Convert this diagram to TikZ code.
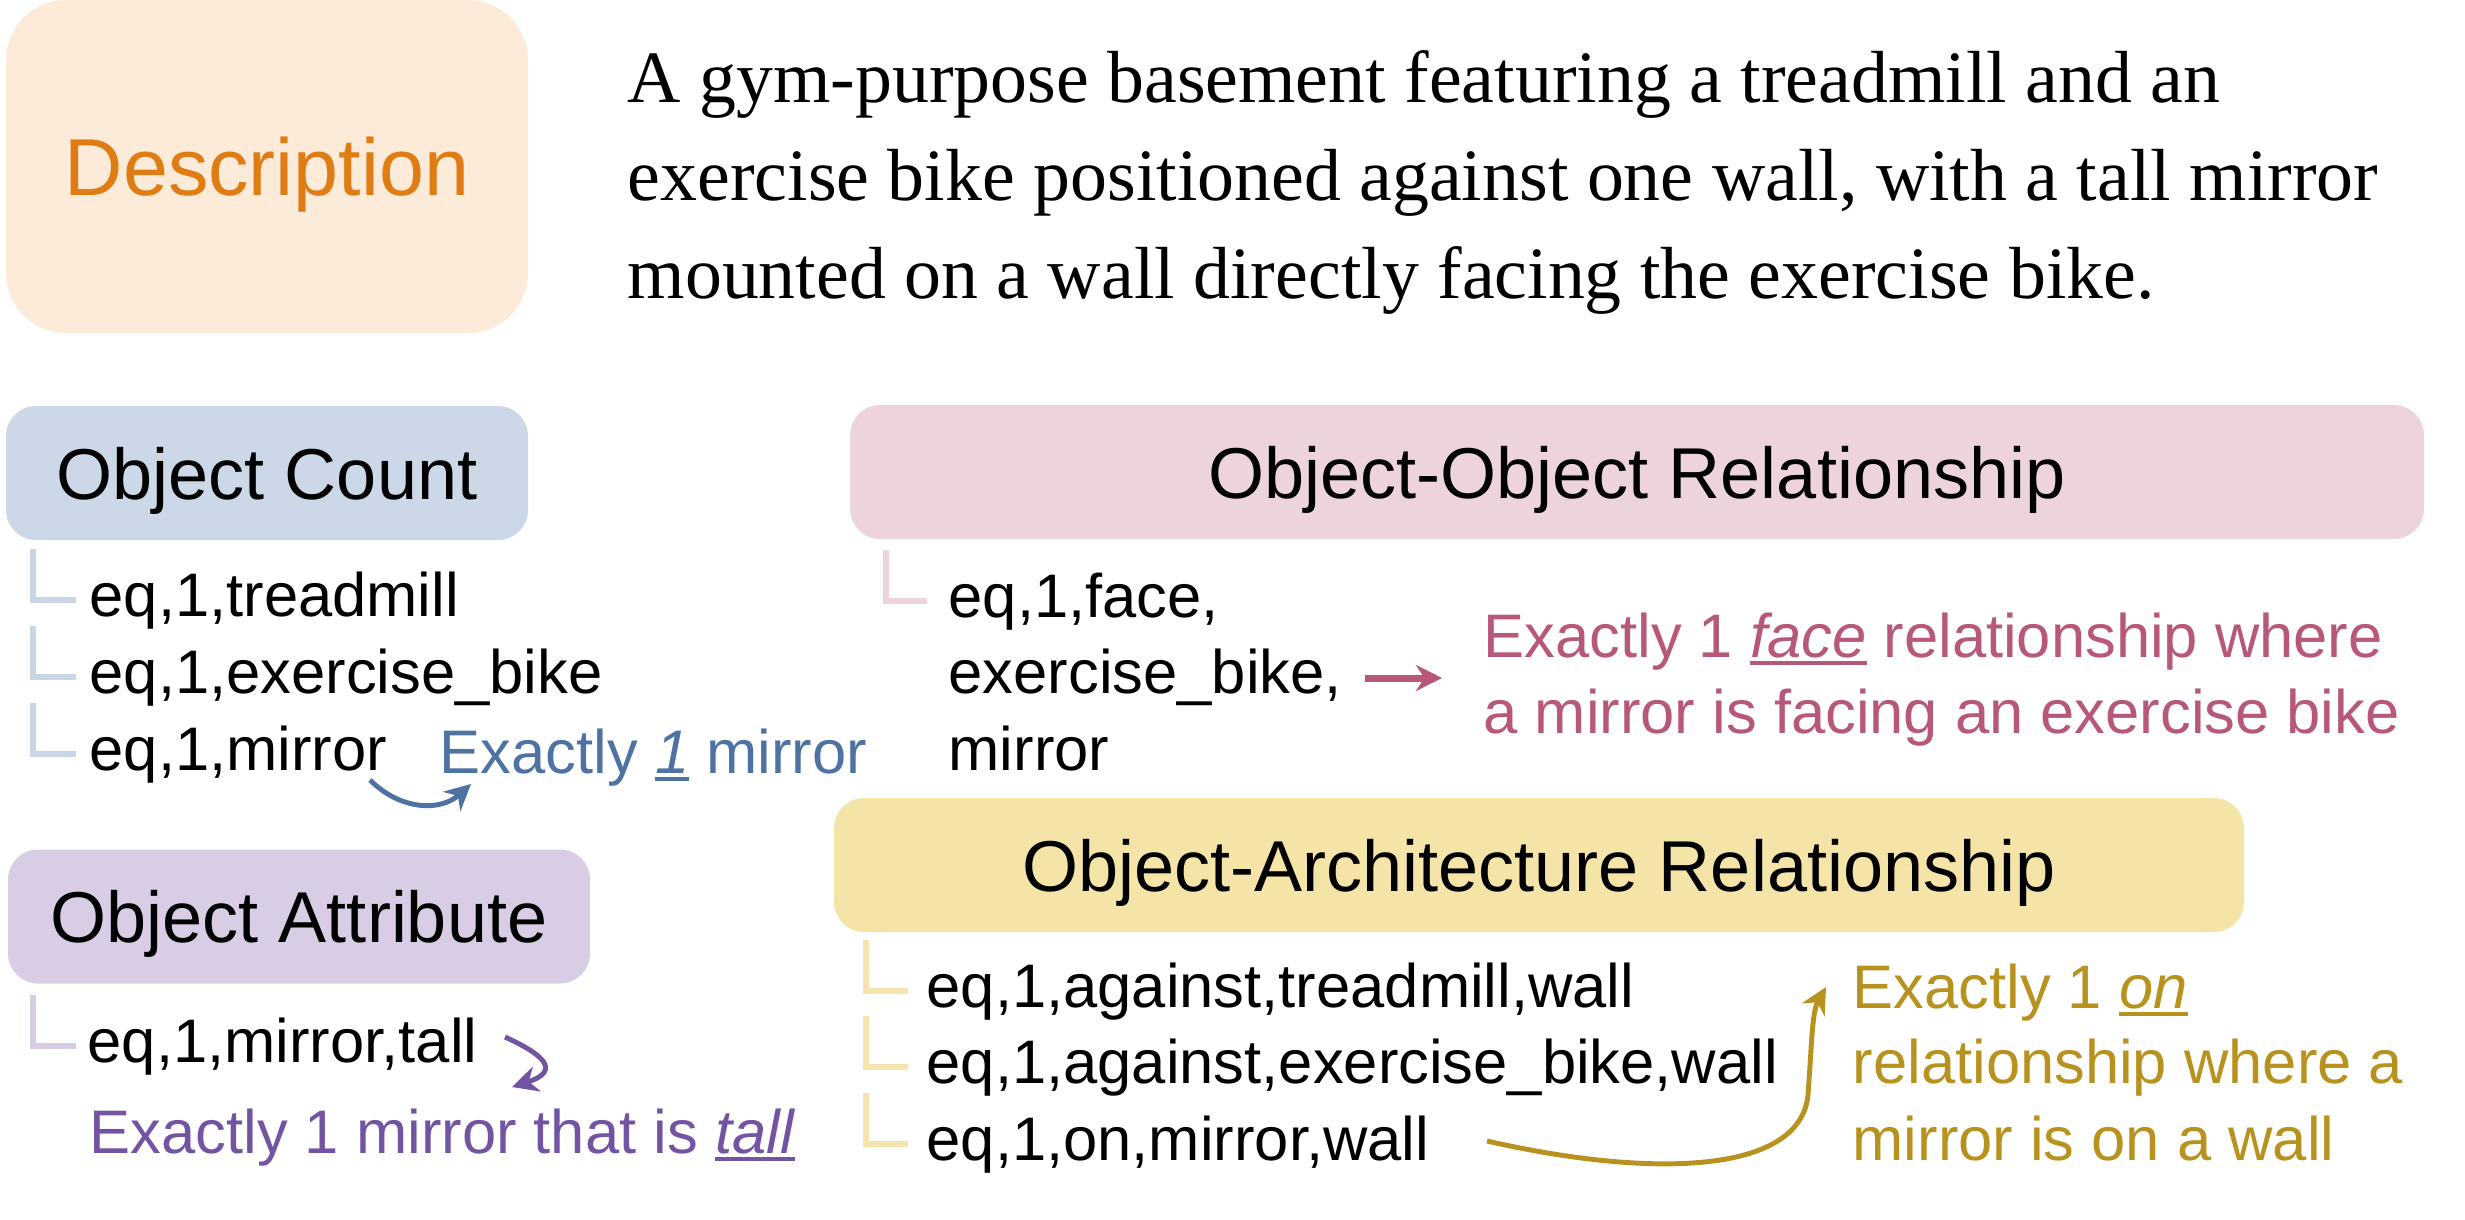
\documentclass[tikz,border=0pt]{standalone}
\usepackage{fontspec}
\setmainfont{Liberation Serif}
\newfontfamily\aptos{Liberation Sans}
\usetikzlibrary{arrows.meta}

\definecolor{descfill}{HTML}{FDEBDA}
\definecolor{desctext}{HTML}{E07C14}
\definecolor{cntfill}{HTML}{CCD8E7}
\definecolor{cntline}{HTML}{CAD5E5}
\definecolor{cntblue}{HTML}{4E72A2}
\definecolor{attfill}{HTML}{D8CDE5}
\definecolor{attpurple}{HTML}{7254A3}
\definecolor{oofill}{HTML}{EDD3DB}
\definecolor{oopink}{HTML}{B7587B}
\definecolor{oafill}{HTML}{F5E4A8}
\definecolor{oaline}{HTML}{F6E4AE}
\definecolor{oagold}{HTML}{B8921E}

% italic word with a rule under it
\newcommand\ulword[1]{\setbox0\hbox{\textit{#1}}\rlap{\rule[-0.75mm]{\wd0}{0.35mm}}\box0\relax}

\begin{document}
\begin{tikzpicture}[x=0.1mm,y=-0.1mm,
  box/.style={rounded corners=3mm, inner sep=0pt, text depth=0pt, minimum height=13.4mm,
    font=\aptos\fontsize{20.5pt}{24pt}\selectfont},
  item/.style={anchor=base west, inner sep=0pt, font=\aptos\fontsize{17.5pt}{21pt}\selectfont},
  note/.style={item, text=#1},
  descline/.style={anchor=base west, inner sep=0pt, font=\fontsize{21pt}{25pt}\selectfont},
  tree/.style={line width=1.6pt, draw=#1},
  tip/.style={line width=1.4pt, draw=#1, -{Stealth[length=2.6mm,width=2.6mm]}}]
\useasboundingbox (0,0) rectangle (2465,1219);

% description
\node[box, rounded corners=6mm, fill=descfill, text=desctext, minimum width=52.2mm, minimum height=33.3mm,
  font=\aptos\fontsize{23pt}{26pt}\selectfont] (desc) at (267,166.5) {Description};
\node[descline] (desc1) at (627,102) {A gym-purpose basement featuring a treadmill and an};
\node[descline] (desc2) at (627,200) {exercise bike positioned against one wall, with a tall mirror};
\node[descline] (desc3) at (627,298) {mounted on a wall directly facing the exercise bike.};

% object count
\node[box, fill=cntfill, minimum width=52.2mm] (count) at (267,473) {Object Count};
\node[item] (cnt1) at (89,616) {eq,1,treadmill};
\node[item] (cnt2) at (89,693) {eq,1,exercise\_bike};
\node[item] (cnt3) at (89,770) {eq,1,mirror};
\foreach \i in {1,2,3}
  \draw[tree=cntline] ([xshift=-5.6mm,yshift=5.1mm]cnt\i.west) |- ([xshift=-1.3mm]cnt\i.west);
\node[note=cntblue] (cntnote) at (439,773) {Exactly \ulword{1} mirror};
\coordinate (cntfrom) at (370,780);
\coordinate (cntto) at (471,784);
\draw[tip=cntblue] (cntfrom) .. controls (400,810) and (440,812) .. (cntto);

% object attribute
\node[box, fill=attfill, minimum width=58.2mm] (attr) at (299,916.5) {Object Attribute};
\node[item] (att1) at (87,1062) {eq,1,mirror,tall};
\draw[tree=attfill] ([xshift=-5.4mm,yshift=5.1mm]att1.west) |- ([xshift=-1.1mm]att1.west);
\node[note=attpurple] (attnote) at (89,1153) {Exactly 1 mirror that is \ulword{tall}};
\coordinate (attfrom) at (505,1037);
\coordinate (attto) at (512,1087);
\draw[tip=attpurple] (attfrom) .. controls (538,1052) and (565,1070) .. (attto);

% object-object relationship
\node[box, fill=oofill, minimum width=157.4mm] (oo) at (1637,472) {Object-Object Relationship};
\node[item] (oo1) at (948,617) {eq,1,face,};
\node[item] (oo2) at (948,693) {exercise\_bike,};
\node[item] (oo3) at (948,770) {mirror};
\draw[tree=oofill] ([xshift=-6.2mm,yshift=5.1mm]oo1.west) |- ([xshift=-2.1mm]oo1.west);
\node[note=oopink] (oonote1) at (1483,657) {Exactly 1 \ulword{face} relationship where};
\node[note=oopink] (oonote2) at (1483,733) {a mirror is facing an exercise bike};
\coordinate (oofrom) at (1365,678);
\coordinate (ooto) at (1442,678);
\draw[tip=oopink, line width=2pt] (oofrom) -- (ooto);

% object-architecture relationship
\node[box, fill=oafill, minimum width=141mm] (oa) at (1539,865) {Object-Architecture Relationship};
\node[item] (oa1) at (926,1007) {eq,1,against,treadmill,wall};
\node[item] (oa2) at (926,1083) {eq,1,against,exercise\_bike,wall};
\node[item] (oa3) at (926,1160) {eq,1,on,mirror,wall};
\foreach \i in {1,2,3}
  \draw[tree=oaline] ([xshift=-6mm,yshift=5.1mm]oa\i.west) |- ([xshift=-1.8mm]oa\i.west);
\node[note=oagold] (oanote1) at (1852,1008) {Exactly 1 \ulword{on}};
\node[note=oagold] (oanote2) at (1852,1083) {relationship where a};
\node[note=oagold] (oanote3) at (1852,1160) {mirror is on a wall};
\coordinate (oafrom) at (1487,1141);
\coordinate (oato) at (1826,987);
\draw[tip=oagold] (oafrom) .. controls (1650,1178) and (1800,1175) .. (1808,1095)
  .. controls (1812,1040) and (1812,1012) .. (oato);
\end{tikzpicture}
\end{document}
